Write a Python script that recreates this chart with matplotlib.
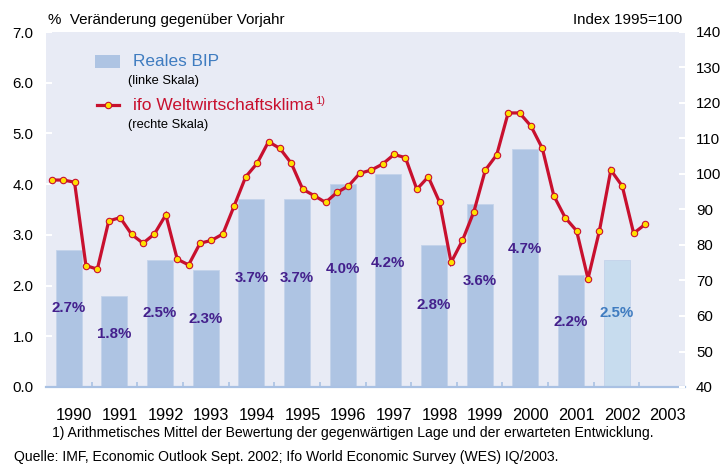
import matplotlib
matplotlib.use("Agg")
import matplotlib.pyplot as plt
from matplotlib.patches import Rectangle
from matplotlib.lines import Line2D

plt.rcParams['font.family'] = ['Liberation Sans', 'DejaVu Sans']

# ---- data ----
years = [1990, 1991, 1992, 1993, 1994, 1995, 1996, 1997, 1998, 1999, 2000, 2001, 2002, 2003]
gdp = [2.7, 1.8, 2.5, 2.3, 3.7, 3.7, 4.0, 4.2, 2.8, 3.6, 4.7, 2.2, 2.5]
gdp_labels = ["2.7%", "1.8%", "2.5%", "2.3%", "3.7%", "3.7%", "4.0%", "4.2%",
              "2.8%", "3.6%", "4.7%", "2.2%", "2.5%"]
# ifo world economic climate, quarterly 1990Q1 .. 2003Q1
ifo = [98.3, 98.3, 97.7, 74.2,
       73.2, 86.8, 87.7, 83.0,
       80.5, 83.1, 88.5, 76.0,
       74.4, 80.5, 81.3, 83.1,
       91.1, 99.2, 103.0, 109.1,
       107.2, 103.0, 95.7, 93.9,
       92.0, 94.8, 96.6, 100.2,
       101.1, 102.8, 105.5, 104.6,
       95.7, 99.2, 92.0, 75.1,
       81.3, 89.4, 101.1, 105.4,
       117.2, 117.2, 113.5, 107.2,
       93.9, 87.7, 84.0, 70.5,
       84.0, 101.1, 96.6, 83.3,
       85.8]
left_ticks = [0.0, 1.0, 2.0, 3.0, 4.0, 5.0, 6.0, 7.0]
right_ticks = [40, 50, 60, 70, 80, 90, 100, 110, 120, 130, 140]

# ---- style ----
W, H = 720, 467
BG = '#E8EBF5'
BAR = '#AEC4E3'
BAR_EST = '#C7DCEE'
RED = '#C8102E'
YEL = '#FFE000'
LBL = '#44208C'
BLUE_TXT = '#3F7CC0'
AXBLUE = '#A9C1E3'

fig = plt.figure(figsize=(W / 100, H / 100), dpi=100)
fig.patch.set_facecolor('white')

def fx(x):
    return x / W

def fy(y):
    return 1 - y / H

ax = fig.add_axes([fx(46), fy(387), fx(685) - fx(46), fy(32) - fy(387)])
ax.set_facecolor(BG)
ax.set_xlim(0, len(years))
ax.set_ylim(0, 7)

n = len(gdp)
xb = [i + 0.5 for i in range(n)]
colors = [BAR] * (n - 1) + [BAR_EST]
ax.bar(xb, gdp, width=0.57, color=colors, edgecolor='#C3D3EA', linewidth=0.6, zorder=2)

for i, (v, t) in enumerate(zip(gdp, gdp_labels)):
    c = BLUE_TXT if i == n - 1 else LBL
    ax.text(xb[i], v * 0.58, t, ha='center', va='center', fontsize=10.8,
            fontweight='bold', color=c, zorder=5)

for s in ['left', 'right', 'top']:
    ax.spines[s].set_visible(False)
ax.spines['bottom'].set_color(AXBLUE)
ax.spines['bottom'].set_linewidth(1.6)

ax.set_yticks(left_ticks)
ax.set_yticklabels([f"{v:.1f}" for v in left_ticks])
ax.tick_params(axis='y', direction='in', length=4, width=1.5, color='white',
               labelsize=10.8, pad=9, labelcolor='black')

ax.set_xticks([i + 0.62 for i in range(len(years))])
ax.set_xticklabels([str(y) for y in years])
ax.set_xticks(list(range(1, len(years))), minor=True)
ax.tick_params(axis='x', which='major', length=0, labelsize=11.8, pad=15)
ax.tick_params(axis='x', which='minor', direction='in', length=3.5, width=1.2, color=AXBLUE)

ax2 = ax.twinx()
ax2.set_ylim(40, 140)
for s in ['left', 'right', 'top', 'bottom']:
    ax2.spines[s].set_visible(False)
ax2.set_yticks(right_ticks)
ax2.set_yticklabels([str(v) for v in right_ticks])
ax2.tick_params(axis='y', direction='in', length=4, width=1.5, color='white',
                labelsize=10.8, pad=8)

xq = [0.125 + 0.25 * k for k in range(len(ifo))]
ax2.plot(xq, ifo, color=RED, linewidth=2.3, marker='o', markersize=4.6,
         markerfacecolor=YEL, markeredgecolor=RED, markeredgewidth=0.8,
         solid_joinstyle='miter', zorder=4)

# ---- header texts ----
fig.text(fx(48), fy(20), "%  Veränderung gegenüber Vorjahr", fontsize=10.9,
         ha='left', va='center')
fig.text(fx(682), fy(20), "Index 1995=100", fontsize=10.9, ha='right', va='center')

# ---- legend ----
fig.patches.append(Rectangle((fx(95), fy(68)), fx(120) - fx(95), fy(55) - fy(68),
                             transform=fig.transFigure, facecolor=BAR, edgecolor='none'))
fig.text(fx(133), fy(62), "Reales BIP", fontsize=12.4, color=BLUE_TXT, ha='left', va='center')
fig.text(fx(128), fy(81), "(linke Skala)", fontsize=9.3, ha='left', va='center')
fig.lines.append(Line2D([fx(97), fx(119)], [fy(105), fy(105)], transform=fig.transFigure,
                        color=RED, linewidth=2.3, marker='', zorder=5))
fig.lines.append(Line2D([fx(108)], [fy(105)], transform=fig.transFigure, color=RED,
                        marker='o', markersize=4.6, markerfacecolor=YEL,
                        markeredgecolor=RED, markeredgewidth=0.8, zorder=6))
t_ifo = fig.text(fx(133), fy(105), "ifo Weltwirtschaftsklima", fontsize=12.5, color=RED,
                 ha='left', va='center')
fig.canvas.draw()
bb = t_ifo.get_window_extent()
fig.text((bb.x1 + 1) / W, fy(101), "1)", fontsize=8, color=RED, ha='left', va='center')
fig.text(fx(128), fy(125), "(rechte Skala)", fontsize=9.3, ha='left', va='center')

# ---- footnotes ----
fig.text(fx(52), fy(433), "1) Arithmetisches Mittel der Bewertung der gegenwärtigen Lage und der erwarteten Entwicklung.",
         fontsize=10.1, ha='left', va='center')
fig.text(fx(14), fy(457), "Quelle: IMF, Economic Outlook Sept. 2002; Ifo World Economic Survey (WES) IQ/2003.",
         fontsize=10.1, ha='left', va='center')

fig.savefig("out.png", dpi=100, facecolor='white')
